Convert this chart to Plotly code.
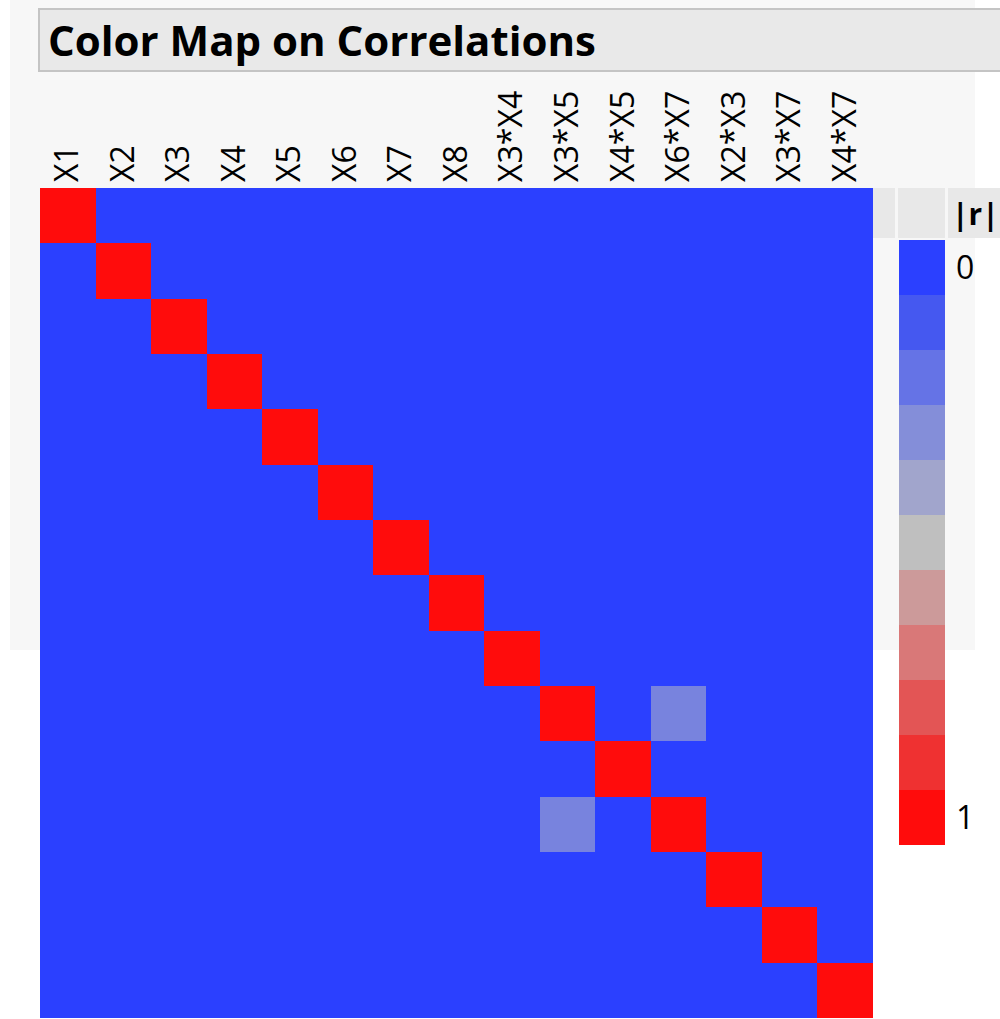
import plotly.graph_objects as go

W, H = 1000, 1019

terms = ["X1", "X2", "X3", "X4", "X5", "X6", "X7", "X8",
         "X3*X4", "X3*X5", "X4*X5", "X6*X7", "X2*X3", "X3*X7", "X4*X7"]

# |r| matrix (rows/cols in the order of `terms`)
abs_r = [
    [1, 0, 0, 0, 0, 0, 0, 0, 0, 0, 0, 0, 0, 0, 0],
    [0, 1, 0, 0, 0, 0, 0, 0, 0, 0, 0, 0, 0, 0, 0],
    [0, 0, 1, 0, 0, 0, 0, 0, 0, 0, 0, 0, 0, 0, 0],
    [0, 0, 0, 1, 0, 0, 0, 0, 0, 0, 0, 0, 0, 0, 0],
    [0, 0, 0, 0, 1, 0, 0, 0, 0, 0, 0, 0, 0, 0, 0],
    [0, 0, 0, 0, 0, 1, 0, 0, 0, 0, 0, 0, 0, 0, 0],
    [0, 0, 0, 0, 0, 0, 1, 0, 0, 0, 0, 0, 0, 0, 0],
    [0, 0, 0, 0, 0, 0, 0, 1, 0, 0, 0, 0, 0, 0, 0],
    [0, 0, 0, 0, 0, 0, 0, 0, 1, 0, 0, 0, 0, 0, 0],
    [0, 0, 0, 0, 0, 0, 0, 0, 0, 1, 0, 0.26, 0, 0, 0],
    [0, 0, 0, 0, 0, 0, 0, 0, 0, 0, 1, 0, 0, 0, 0],
    [0, 0, 0, 0, 0, 0, 0, 0, 0, 0.26, 0, 1, 0, 0, 0],
    [0, 0, 0, 0, 0, 0, 0, 0, 0, 0, 0, 0, 1, 0, 0],
    [0, 0, 0, 0, 0, 0, 0, 0, 0, 0, 0, 0, 0, 1, 0],
    [0, 0, 0, 0, 0, 0, 0, 0, 0, 0, 0, 0, 0, 0, 1],
]

# legend steps
legend_levels = [0.0, 0.1, 0.2, 0.3, 0.4, 0.5, 0.6, 0.7, 0.8, 0.9, 1.0]
legend_ticks = ["0", "1"]

step_colors = ["#2B40FF", "#4558F0", "#6573E6", "#848ED9", "#A1A5CC", "#BFBFBF",
               "#CC9A9A", "#D97878", "#E35555", "#EF3131", "#FF0C0C"]
colorscale = [[i / 10, c] for i, c in enumerate(step_colors)]


def px_x(x):
    return x / W


def px_y(y):
    return 1 - y / H


fig = go.Figure()

fig.add_trace(go.Heatmap(
    z=abs_r, x=terms, y=terms, colorscale=colorscale, zmin=0, zmax=1,
    showscale=False, xaxis="x", yaxis="y", hoverongaps=False,
))

fig.add_trace(go.Heatmap(
    z=[[v] for v in legend_levels], x=[0], y=list(range(len(legend_levels))),
    colorscale=colorscale, zmin=0, zmax=1, showscale=False,
    xaxis="x2", yaxis="y2",
))

font_family = "Open Sans, Noto Sans, DejaVu Sans, sans-serif"

shapes = [
    # light panel behind the upper-left part
    dict(type="rect", xref="paper", yref="paper", x0=px_x(10), x1=px_x(975),
         y0=px_y(650), y1=px_y(0), fillcolor="#F7F7F7", line=dict(width=0), layer="below"),
    # title bar
    dict(type="rect", xref="paper", yref="paper", x0=px_x(39), x1=px_x(1003),
         y0=px_y(71), y1=px_y(9), fillcolor="#E9E9E9", line=dict(color="#C4C4C4", width=2),
         layer="below"),
    # legend header cells
    dict(type="rect", xref="paper", yref="paper", x0=px_x(873), x1=px_x(895),
         y0=px_y(238), y1=px_y(188), fillcolor="#E8E8E8", line=dict(width=0), layer="below"),
    dict(type="rect", xref="paper", yref="paper", x0=px_x(898), x1=px_x(945),
         y0=px_y(238), y1=px_y(188), fillcolor="#E8E8E8", line=dict(width=0), layer="below"),
    dict(type="rect", xref="paper", yref="paper", x0=px_x(948), x1=px_x(1000),
         y0=px_y(238), y1=px_y(188), fillcolor="#E8E8E8", line=dict(width=0), layer="below"),
]

annotations = [
    dict(text="<b>Color Map on Correlations</b>", xref="paper", yref="paper",
         x=px_x(46), y=px_y(40), xanchor="left", yanchor="middle", showarrow=False,
         font=dict(family=font_family, size=42, color="black")),
    dict(text="<b>|r|</b>", xref="paper", yref="paper",
         x=px_x(975), y=px_y(213), xanchor="center", yanchor="middle", showarrow=False,
         font=dict(family=font_family, size=30, color="black")),
]

fig.update_layout(
    width=W, height=H,
    margin=dict(l=0, r=0, t=0, b=0),
    paper_bgcolor="white", plot_bgcolor="white",
    showlegend=False,
    shapes=shapes, annotations=annotations,
    xaxis=dict(domain=[px_x(40), px_x(873)], side="top", tickangle=-90,
               tickfont=dict(family=font_family, size=32, color="black"),
               showgrid=False, zeroline=False, showline=False, ticks="",
               ticklabelstandoff=5, anchor="y"),
    yaxis=dict(domain=[px_y(1018), px_y(188)], autorange="reversed",
               showticklabels=False, showgrid=False, zeroline=False, showline=False,
               ticks="", anchor="x"),
    xaxis2=dict(domain=[px_x(899), px_x(945)], showticklabels=False, showgrid=False,
                zeroline=False, showline=False, ticks="", anchor="y2"),
    yaxis2=dict(domain=[px_y(845), px_y(240)], autorange="reversed", side="right",
                tickvals=[0, len(legend_levels) - 1], ticktext=legend_ticks,
                tickfont=dict(family=font_family, size=32, color="black"),
                showgrid=False, zeroline=False, showline=False, ticks="",
                ticklabelstandoff=10, anchor="x2"),
)

fig.write_html("out.html", config={"displayModeBar": False},
               post_script="document.body.style.margin='0';")
